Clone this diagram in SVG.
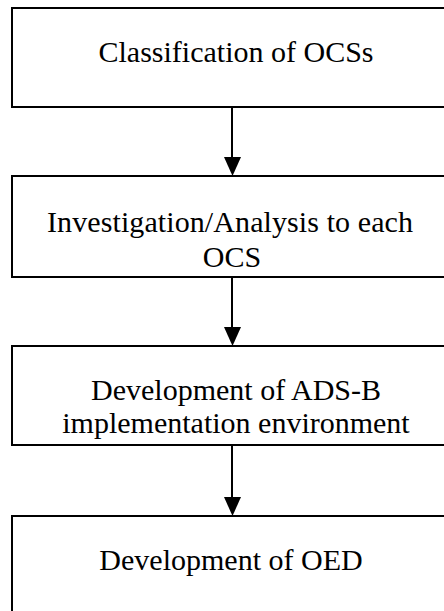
<svg xmlns="http://www.w3.org/2000/svg" width="444" height="611" viewBox="0 0 444 611">
<defs>
<style>
.box{fill:#fff;stroke:#000;stroke-width:2}
.lbl{font-family:'Liberation Serif','Times New Roman',serif;font-size:30px;fill:#000;text-anchor:middle}
.conn{stroke:#000;stroke-width:2;fill:none}
.head{fill:#000}
</style>
</defs>
<rect width="444" height="611" fill="#fff"/>
<g id="n1"><rect class="box" x="12" y="8" width="450" height="99"/><text class="lbl" x="236" y="62">Classification of OCSs</text></g>
<g id="n2"><rect class="box" x="12" y="176" width="450" height="101"/><text class="lbl" x="230" y="232" textLength="366" lengthAdjust="spacing">Investigation/Analysis to each</text><text class="lbl" x="232" y="267">OCS</text></g>
<g id="n3"><rect class="box" x="12" y="346" width="450" height="99"/><text class="lbl" x="236" y="400">Development of ADS-B</text><text class="lbl" x="236" y="433">implementation environment</text></g>
<g id="n4"><rect class="box" x="12" y="516" width="450" height="110"/><text class="lbl" x="231" y="570">Development of OED</text></g>
<g id="connectors">
<line class="conn" x1="232" y1="107" x2="232" y2="157"/><path class="head" d="M224,157 L241,157 L232.5,176 Z"/>
<line class="conn" x1="232" y1="277" x2="232" y2="327"/><path class="head" d="M224,327 L241,327 L232.5,346 Z"/>
<line class="conn" x1="232" y1="445" x2="232" y2="497"/><path class="head" d="M224,497 L241,497 L232.5,516 Z"/>
</g>
</svg>
